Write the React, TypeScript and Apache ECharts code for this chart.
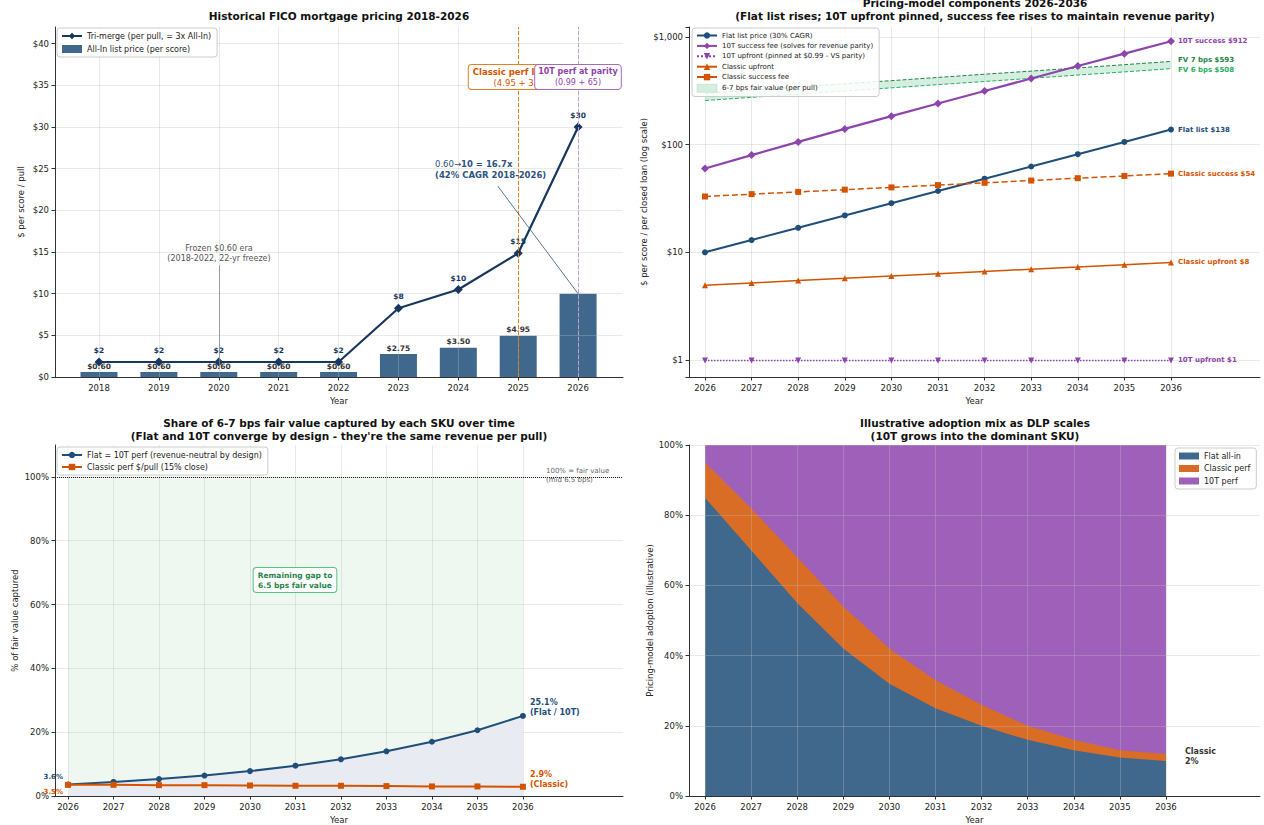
import React, { useEffect, useRef } from 'react';
import * as echarts from 'echarts';

// ---------- Panel 1: historical pricing ----------
const histYears = [2018, 2019, 2020, 2021, 2022, 2023, 2024, 2025, 2026];
const allInPrice = [0.6, 0.6, 0.6, 0.6, 0.6, 2.75, 3.5, 4.95, 10];
const allInLabels = ['$0.60', '$0.60', '$0.60', '$0.60', '$0.60', '$2.75', '$3.50', '$4.95', ''];
const triMerge = [1.8, 1.8, 1.8, 1.8, 1.8, 8.25, 10.5, 14.85, 30];
const triMergeLabels = ['$2', '$2', '$2', '$2', '$2', '$8', '$10', '$15', '$30'];
const histYTicks = [0, 5, 10, 15, 20, 25, 30, 35, 40];

// ---------- Panel 2: pricing-model components ----------
const projYears = [2026, 2027, 2028, 2029, 2030, 2031, 2032, 2033, 2034, 2035, 2036];
const flatList = [10, 13, 16.9, 22.0, 28.6, 37.1, 48.3, 62.7, 81.6, 106, 138];
const tenTSuccess = [60, 80, 106, 140, 184, 241, 315, 412, 537, 700, 912];
const tenTUpfront = [0.99, 0.99, 0.99, 0.99, 0.99, 0.99, 0.99, 0.99, 0.99, 0.99, 0.99];
const classicUpfront = [4.95, 5.2, 5.46, 5.73, 6.02, 6.32, 6.63, 6.97, 7.31, 7.68, 8.06];
const classicSuccess = [33, 34.7, 36.4, 38.2, 40.1, 42.1, 44.2, 46.4, 48.8, 51.2, 53.8];
const fv6bps = [257, 275, 294, 315, 337, 361, 386, 413, 443, 474, 508];
const fv7bps = [300, 321, 343, 368, 393, 421, 451, 482, 516, 553, 593];

// ---------- Panel 3: share of fair value ----------
const flatShare = [3.6, 4.4, 5.3, 6.4, 7.8, 9.5, 11.5, 14.0, 17.0, 20.6, 25.1];
const classicShare = [3.5, 3.5, 3.4, 3.4, 3.3, 3.2, 3.2, 3.1, 3.0, 3.0, 2.9];
const fairValueCeiling = 100;
const shareYTicks = [0, 20, 40, 60, 80, 100];

// ---------- Panel 4: adoption mix ----------
const mixFlat = [85, 70, 55, 42, 32, 25, 20, 16, 13, 11, 10];
const mixClassic = [10, 12, 13, 12, 10, 8, 6, 4, 3, 2, 2];
const mix10T = [5, 18, 32, 46, 58, 67, 74, 80, 84, 87, 88];

const F = '"DejaVu Sans", Verdana, sans-serif';
const GRID = 'rgba(190,190,190,0.42)';
const NAVY = '#1f4e79';
const TRI = '#17375e';
const PURPLE = '#8e44ad';
const ORANGE = '#d35400';
const GREEN_D = '#1e8449';
const GREEN_L = '#27ae60';

const pairs = (xs: number[], ys: number[]) => xs.map((x, i) => [x, ys[i]]);

function xAxisFor(gridIndex: number, min: number, max: number, ticks: number[]) {
  return {
    type: 'value', gridIndex, min, max,
    name: 'Year', nameLocation: 'middle', nameGap: 19,
    nameTextStyle: { color: '#222', fontSize: 8.5, fontFamily: F },
    axisLine: { show: true, onZero: false, lineStyle: { color: '#333', width: 1 } },
    axisTick: { show: true, length: 3.5, customValues: ticks, lineStyle: { color: '#333' } },
    axisLabel: { show: true, customValues: ticks, color: '#222', fontSize: 8.5, fontFamily: F, margin: 6, formatter: (v: number) => String(v) },
    splitLine: { show: true, lineStyle: { color: GRID, width: 0.8 } },
    z: 3,
  };
}

function yAxisBase(gridIndex: number, name: string, nameGap: number) {
  return {
    gridIndex, name, nameLocation: 'middle', nameGap,
    nameTextStyle: { color: '#222', fontSize: 8.5, fontFamily: F },
    axisLine: { show: true, lineStyle: { color: '#333', width: 1 } },
    splitLine: { show: true, lineStyle: { color: GRID, width: 0.8 } },
    z: 3,
  };
}

const legendCommon = {
  orient: 'vertical',
  backgroundColor: 'rgba(255,255,255,0.85)',
  borderColor: '#cccccc',
  borderWidth: 1,
  borderRadius: 3,
  padding: [4, 6, 4, 4],
  itemGap: 4,
  itemWidth: 20,
  itemHeight: 8,
  textStyle: { color: '#222', fontSize: 8, fontFamily: F },
};

const endLbl = (text: string, color: string, extra: any = {}) => ({
  show: true, formatter: text, color, fontSize: 7, fontWeight: 'bold', fontFamily: F, distance: 7, ...extra,
});

export default function App() {
  const ref = useRef<HTMLDivElement>(null);

  useEffect(() => {
    document.body.style.margin = '0';
    if (!ref.current) return;
    const chart = echarts.init(ref.current, undefined, { renderer: 'svg' });
    const last = (a: number[]) => a[a.length - 1];

    // cumulative tops for the stacked adoption areas (drawn as overlapping areas from 0)
    const cumClassic = mixFlat.map((v, i) => v + mixClassic[i]);
    const cum10T = cumClassic.map((v, i) => v + mix10T[i]);

    const option: any = {
      animation: false,
      backgroundColor: '#ffffff',
      textStyle: { fontFamily: F },
      grid: [
        { left: 55, top: 27, width: 568, height: 350, outerBoundsMode: 'none' },
        { left: 689, top: 27, width: 571, height: 350, outerBoundsMode: 'none' },
        { left: 55, top: 445, width: 568, height: 351, outerBoundsMode: 'none' },
        { left: 689, top: 445, width: 571, height: 351, outerBoundsMode: 'none' },
      ],
      xAxis: [
        xAxisFor(0, 2017.265, 2026.75, histYears),
        xAxisFor(1, 2025.657, 2037.91, projYears),
        xAxisFor(2, 2025.714, 2038.2, projYears),
        xAxisFor(3, 2025.653, 2038.04, projYears),
      ],
      yAxis: [
        {
          ...yAxisBase(0, '$ per score / pull', 30), type: 'value', min: 0, max: 42,
          axisTick: { show: true, length: 3.5, customValues: histYTicks, lineStyle: { color: '#333' } },
          axisLabel: { customValues: histYTicks, color: '#222', fontSize: 8.5, fontFamily: F, margin: 6, formatter: (v: number) => '$' + v },
        },
        {
          ...yAxisBase(1, '$ per score / per closed loan (log scale)', 41), type: 'log', logBase: 10, min: 0.695, max: 1238,
          axisTick: { show: true, length: 3.5, lineStyle: { color: '#333' } },
          axisLabel: {
            color: '#222', fontSize: 8.5, fontFamily: F, margin: 6,
            formatter: (v: number) => {
              const l = Math.log10(v);
              if (Math.abs(l - Math.round(l)) < 1e-6) return '$' + Math.round(v).toLocaleString('en-US');
              return '';
            },
          },
          splitLine: { show: true, showMinLine: false, showMaxLine: false, lineStyle: { color: GRID, width: 0.8 } },
        },
        {
          ...yAxisBase(2, '% of fair value captured', 36), type: 'value', min: 0, max: 110,
          axisTick: { show: true, length: 3.5, customValues: shareYTicks, lineStyle: { color: '#333' } },
          axisLabel: { customValues: shareYTicks, color: '#222', fontSize: 8.5, fontFamily: F, margin: 6, formatter: (v: number) => v + '%' },
        },
        {
          ...yAxisBase(3, 'Pricing-model adoption (illustrative)', 34), type: 'value', min: 0, max: 100, interval: 20,
          axisTick: { show: true, length: 3.5, lineStyle: { color: '#333' } },
          axisLabel: { color: '#222', fontSize: 8.5, fontFamily: F, margin: 6, formatter: (v: number) => v + '%' },
        },
      ],
      legend: [
        { ...legendCommon, left: 57, top: 28, itemGap: 5, data: ['Tri-merge (per pull, = 3x All-In)', { name: 'All-In list price (per score)', icon: 'rect' }] },
        {
          ...legendCommon, left: 692, top: 28, itemGap: 3.4, textStyle: { color: '#222', fontSize: 7, fontFamily: F },
          data: [
            'Flat list price (30% CAGR)',
            '10T success fee (solves for revenue parity)',
            '10T upfront (pinned at $0.99 - VS parity)',
            'Classic upfront',
            'Classic success fee',
            { name: '6-7 bps fair value (per pull)', icon: 'rect', itemStyle: { color: '#d4efdf', borderColor: '#a9dfbf', borderWidth: 0.5 } },
          ],
        },
        { ...legendCommon, left: 57, top: 447, data: ['Flat = 10T perf (revenue-neutral by design)', 'Classic perf $/pull (15% close)'] },
        {
          ...legendCommon, left: 1175, top: 448, itemHeight: 7, itemGap: 4.5,
          data: [{ name: 'Flat all-in', icon: 'rect' }, { name: 'Classic perf', icon: 'rect' }, { name: '10T perf', icon: 'rect' }],
        },
      ],
      series: [
        // ---- Panel 1 ----
        {
          type: 'bar', name: 'All-In list price (per score)', xAxisIndex: 0, yAxisIndex: 0,
          data: pairs(histYears, allInPrice), barWidth: 37, z: 2,
          itemStyle: { color: '#40688d' },
          label: {
            show: true, position: 'top', distance: 2, fontSize: 7.5, fontWeight: 'bold', color: '#333', fontFamily: F,
            formatter: (p: any) => allInLabels[p.dataIndex],
          },
          markLine: {
            silent: true, symbol: ['none', 'none'], label: { show: false },
            data: [
              { xAxis: 2025, lineStyle: { color: '#e67e22', type: 'dashed', width: 1 } },
              { xAxis: 2026, lineStyle: { color: '#c39bd3', type: 'dashed', width: 1 } },
              [
                { coord: [2020, 13.4], lineStyle: { color: '#888', type: 'solid', width: 0.8 } },
                { coord: [2020, 0.95] },
              ],
            ],
          },
        },
        {
          type: 'line', name: 'Tri-merge (per pull, = 3x All-In)', xAxisIndex: 0, yAxisIndex: 0,
          data: pairs(histYears, triMerge), z: 4,
          symbol: 'diamond', symbolSize: 9,
          lineStyle: { color: TRI, width: 2.2 }, itemStyle: { color: TRI },
          label: {
            show: true, position: 'top', distance: 3, fontSize: 7.5, fontWeight: 'bold', color: TRI, fontFamily: F,
            formatter: (p: any) => triMergeLabels[p.dataIndex],
          },
          markLine: {
            silent: true, symbol: ['none', 'arrow'], symbolSize: [0, 7], label: { show: false },
            lineStyle: { color: '#2e5480', width: 0.8, type: 'solid' },
            data: [[{ coord: [2024.66, 22.9] }, { coord: [2026, 10] }]],
          },
        },
        // ---- Panel 2 ----
        {
          type: 'custom', name: '6-7 bps fair value (per pull)', xAxisIndex: 1, yAxisIndex: 1, z: 2,
          data: projYears.map((y, i) => [y, fv6bps[i], fv7bps[i]]),
          encode: { x: 0, y: [1, 2] },
          itemStyle: { color: '#d4efdf' },
          renderItem: (params: any, api: any) => {
            if (params.dataIndex !== 0) return null;
            const top = projYears.map((y, i) => api.coord([y, fv7bps[i]]));
            const bot = projYears.map((y, i) => api.coord([y, fv6bps[i]])).reverse();
            return { type: 'polygon', shape: { points: top.concat(bot) }, style: { fill: 'rgba(39,174,96,0.2)' } };
          },
        },
        {
          type: 'line', name: 'FV 6 bps', xAxisIndex: 1, yAxisIndex: 1,
          data: pairs(projYears, fv6bps), symbol: 'none', z: 3,
          lineStyle: { color: GREEN_L, type: 'dashed', width: 1 }, itemStyle: { color: GREEN_L },
          endLabel: endLbl(`FV 6 bps $${last(fv6bps)}`, GREEN_L, { offset: [0, 1] }),
        },
        {
          type: 'line', name: 'FV 7 bps', xAxisIndex: 1, yAxisIndex: 1,
          data: pairs(projYears, fv7bps), symbol: 'none', z: 3,
          lineStyle: { color: GREEN_D, type: 'dashed', width: 1 }, itemStyle: { color: GREEN_D },
          endLabel: endLbl(`FV 7 bps $${last(fv7bps)}`, GREEN_D, { offset: [0, -1] }),
        },
        {
          type: 'line', name: 'Flat list price (30% CAGR)', xAxisIndex: 1, yAxisIndex: 1,
          data: pairs(projYears, flatList), z: 4, symbol: 'circle', symbolSize: 6,
          lineStyle: { color: NAVY, width: 2 }, itemStyle: { color: NAVY },
          endLabel: endLbl(`Flat list $${Math.round(last(flatList))}`, NAVY),
        },
        {
          type: 'line', name: '10T success fee (solves for revenue parity)', xAxisIndex: 1, yAxisIndex: 1,
          data: pairs(projYears, tenTSuccess), z: 4, symbol: 'diamond', symbolSize: 8,
          lineStyle: { color: PURPLE, width: 2.2 }, itemStyle: { color: PURPLE },
          endLabel: endLbl(`10T success $${Math.round(last(tenTSuccess))}`, PURPLE),
        },
        {
          type: 'line', name: '10T upfront (pinned at $0.99 - VS parity)', xAxisIndex: 1, yAxisIndex: 1,
          data: pairs(projYears, tenTUpfront), z: 4, symbol: 'triangle', symbolRotate: 180, symbolSize: 6,
          lineStyle: { color: PURPLE, width: 1.5, type: 'dotted' }, itemStyle: { color: PURPLE },
          endLabel: endLbl(`10T upfront $${Math.round(last(tenTUpfront))}`, PURPLE),
        },
        {
          type: 'line', name: 'Classic upfront', xAxisIndex: 1, yAxisIndex: 1,
          data: pairs(projYears, classicUpfront), z: 4, symbol: 'triangle', symbolSize: 6,
          lineStyle: { color: ORANGE, width: 1.5 }, itemStyle: { color: ORANGE },
          endLabel: endLbl(`Classic upfront $${Math.round(last(classicUpfront))}`, ORANGE),
        },
        {
          type: 'line', name: 'Classic success fee', xAxisIndex: 1, yAxisIndex: 1,
          data: pairs(projYears, classicSuccess), z: 4, symbol: 'rect', symbolSize: 6,
          lineStyle: { color: ORANGE, width: 1.5, type: 'dashed' }, itemStyle: { color: ORANGE },
          endLabel: endLbl(`Classic success $${Math.round(last(classicSuccess))}`, ORANGE),
        },
        // ---- Panel 3 ----
        {
          type: 'line', name: 'gap', xAxisIndex: 2, yAxisIndex: 2,
          data: pairs(projYears, projYears.map(() => fairValueCeiling)), z: 1, symbol: 'none', silent: true,
          lineStyle: { opacity: 0, width: 0 }, itemStyle: { color: GREEN_L },
          areaStyle: { color: '#eef8f1', opacity: 1 },
        },
        {
          type: 'line', name: 'Flat = 10T perf (revenue-neutral by design)', xAxisIndex: 2, yAxisIndex: 2,
          data: projYears.map((y, i) => i === 0
            ? { value: [y, flatShare[i]], label: { show: true, position: 'left', offset: [3, -8], formatter: `${flatShare[i].toFixed(1)}%`, color: NAVY, fontSize: 7, fontWeight: 'bold', fontFamily: F } }
            : [y, flatShare[i]]),
          z: 4, symbol: 'circle', symbolSize: 6,
          lineStyle: { color: NAVY, width: 2 }, itemStyle: { color: NAVY },
          areaStyle: { color: '#e8ecf2', opacity: 1 },
          endLabel: { show: true, formatter: `${last(flatShare).toFixed(1)}%\n(Flat / 10T)`, color: NAVY, fontSize: 8, fontWeight: 'bold', fontFamily: F, distance: 7, offset: [0, -8], lineHeight: 10 },
        },
        {
          type: 'line', name: 'Classic perf $/pull (15% close)', xAxisIndex: 2, yAxisIndex: 2,
          data: projYears.map((y, i) => i === 0
            ? { value: [y, classicShare[i]], label: { show: true, position: 'left', offset: [3, 7], formatter: `${classicShare[i].toFixed(1)}%`, color: ORANGE, fontSize: 7, fontWeight: 'bold', fontFamily: F } }
            : [y, classicShare[i]]),
          z: 4, symbol: 'rect', symbolSize: 6,
          lineStyle: { color: ORANGE, width: 2 }, itemStyle: { color: ORANGE },
          endLabel: { show: true, formatter: `${last(classicShare).toFixed(1)}%\n(Classic)`, color: ORANGE, fontSize: 8, fontWeight: 'bold', fontFamily: F, distance: 7, offset: [0, -7], lineHeight: 10 },
          markLine: {
            silent: true, symbol: ['none', 'none'], label: { show: false },
            lineStyle: { color: '#222', type: 'dotted', width: 1 },
            data: [{ yAxis: fairValueCeiling }],
          },
        },
        // ---- Panel 4 (areas from 0 to cumulative tops; later series drawn on top) ----
        {
          type: 'line', name: '10T perf', xAxisIndex: 3, yAxisIndex: 3,
          data: pairs(projYears, cum10T), symbol: 'none', z: 2,
          lineStyle: { width: 0, opacity: 0 }, itemStyle: { color: '#9f60b9' },
          areaStyle: { color: '#9f60b9', opacity: 1 },
        },
        {
          type: 'line', name: 'Classic perf', xAxisIndex: 3, yAxisIndex: 3,
          data: pairs(projYears, cumClassic), symbol: 'none', z: 2,
          lineStyle: { width: 0, opacity: 0 }, itemStyle: { color: '#d96d26' },
          areaStyle: { color: '#d96d26', opacity: 1 },
          endLabel: { show: true, formatter: `Classic\n${last(mixClassic)}%`, color: '#333', fontSize: 8, fontWeight: 'bold', fontFamily: F, distance: 19, lineHeight: 10, offset: [0, 3] },
        },
        {
          type: 'line', name: 'Flat all-in', xAxisIndex: 3, yAxisIndex: 3,
          data: pairs(projYears, mixFlat), symbol: 'none', z: 2,
          lineStyle: { width: 0, opacity: 0 }, itemStyle: { color: '#40688d' },
          areaStyle: { color: '#40688d', opacity: 1 },
        },
      ],
      graphic: [
        // titles
        { type: 'text', x: 339, y: 16, z: 100, style: { text: 'Historical FICO mortgage pricing 2018-2026', fontSize: 10.5, fontWeight: 'bold', fontFamily: F, fill: '#111', textAlign: 'center', textVerticalAlign: 'middle' } },
        { type: 'text', x: 975, y: 9.5, z: 100, style: { text: 'Pricing-model components 2026-2036\n(Flat list rises; 10T upfront pinned, success fee rises to maintain revenue parity)', fontSize: 10.5, fontWeight: 'bold', fontFamily: F, fill: '#111', textAlign: 'center', textVerticalAlign: 'middle', lineHeight: 13 } },
        { type: 'text', x: 339, y: 429.5, z: 100, style: { text: "Share of 6-7 bps fair value captured by each SKU over time\n(Flat and 10T converge by design - they're the same revenue per pull)", fontSize: 10.5, fontWeight: 'bold', fontFamily: F, fill: '#111', textAlign: 'center', textVerticalAlign: 'middle', lineHeight: 13 } },
        { type: 'text', x: 975, y: 429.5, z: 100, style: { text: 'Illustrative adoption mix as DLP scales\n(10T grows into the dominant SKU)', fontSize: 10.5, fontWeight: 'bold', fontFamily: F, fill: '#111', textAlign: 'center', textVerticalAlign: 'middle', lineHeight: 13 } },
        // panel 1 annotations
        {
          type: 'text', x: 518, y: 77, z: 50,
          style: {
            text: '{b|Classic perf launch}\n{n|(4.95 + 33)}', textAlign: 'center', textVerticalAlign: 'middle',
            rich: { b: { fontSize: 8.5, fontWeight: 'bold', fontFamily: F, fill: ORANGE, lineHeight: 11 }, n: { fontSize: 8.5, fontFamily: F, fill: ORANGE, lineHeight: 11 } },
            backgroundColor: '#fff', borderColor: '#e67e22', borderWidth: 1, borderRadius: 3, padding: [1, 4],
          },
        },
        {
          type: 'text', x: 578, y: 77, z: 51,
          style: {
            text: '{b|10T perf at parity}\n{n|(0.99 + 65)}', textAlign: 'center', textVerticalAlign: 'middle',
            rich: { b: { fontSize: 8, fontWeight: 'bold', fontFamily: F, fill: PURPLE, lineHeight: 11 }, n: { fontSize: 8, fontFamily: F, fill: PURPLE, lineHeight: 11 } },
            backgroundColor: '#fff', borderColor: '#a569bd', borderWidth: 1, borderRadius: 3, padding: [1, 3],
          },
        },
        { type: 'text', x: 219, y: 253, z: 50, style: { text: 'Frozen $0.60 era\n(2018-2022, 22-yr freeze)', fontSize: 8, fontFamily: F, fill: '#555', textAlign: 'center', textVerticalAlign: 'middle', lineHeight: 10 } },
        {
          type: 'text', x: 435, y: 169, z: 50,
          style: {
            text: '{a|0.60→}{b|10 = 16.7x}\n{b|(42% CAGR 2018-2026)}', textAlign: 'left', textVerticalAlign: 'middle',
            rich: { a: { fontSize: 8.5, fontFamily: F, fill: '#2e5480', lineHeight: 11 }, b: { fontSize: 8.5, fontWeight: 'bold', fontFamily: F, fill: '#2e5480', lineHeight: 11 } },
          },
        },
        // panel 3 annotations
        {
          type: 'text', x: 295, y: 580, z: 50,
          style: {
            text: 'Remaining gap to\n6.5 bps fair value', fontSize: 7.5, fontWeight: 'bold', fontFamily: F, fill: GREEN_D,
            textAlign: 'center', textVerticalAlign: 'middle', lineHeight: 10,
            backgroundColor: '#fff', borderColor: '#58c184', borderWidth: 1, borderRadius: 3, padding: [2, 4],
          },
        },
        { type: 'text', x: 546, y: 475.5, z: 50, style: { text: '100% = fair value\n(mid 6.5 bps)', fontSize: 7, fontFamily: F, fill: '#666', textAlign: 'left', textVerticalAlign: 'middle', lineHeight: 9 } },
      ],
    };

    chart.setOption(option);
    return () => chart.dispose();
  }, []);

  return <div ref={ref} style={{ width: 1264, height: 825 }} />;
}
